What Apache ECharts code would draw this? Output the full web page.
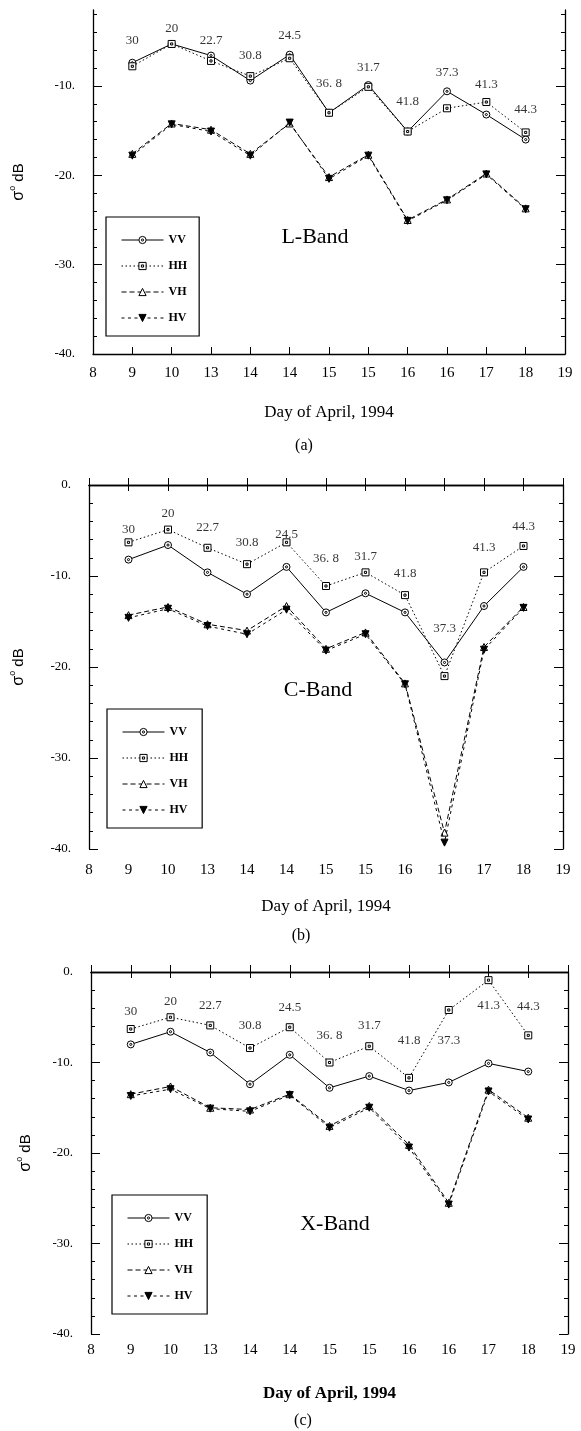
<!DOCTYPE html>
<html><head><meta charset="utf-8">
<script src="https://cdn.jsdelivr.net/npm/echarts@6/dist/echarts.min.js"></script>
<style>html,body{margin:0;padding:0;background:#fff}#c{width:581px;height:1431px}</style>
</head><body><div id="c"></div>
<script>
// ---- data ----
const xTickLabels = ['8','9','10','13','14','14','15','15','16','16','17','18','19'];
const obsIndex = [1,2,3,4,5,6,7,8,9,10,11];
const angleLabels = ['30','20','22.7','30.8','24.5','36. 8','31.7','41.8','37.3','41.3','44.3'];

const lVV = [-7.4,-5.3,-6.6,-9.4,-6.5,-13.0,-9.9,-15.1,-10.6,-13.2,-16.0];
const lHH = [-7.8,-5.3,-7.2,-8.9,-6.9,-13.0,-10.1,-15.1,-12.5,-11.8,-15.2];
const lVH = [-17.6,-14.2,-14.9,-17.6,-14.2,-20.2,-17.7,-25.0,-22.7,-19.8,-23.7];
const lHV = [-17.8,-14.3,-15.1,-17.8,-14.1,-20.4,-17.8,-25.1,-22.8,-19.9,-23.8];
const lAngleY = [-4.9,-3.6,-4.9,-6.6,-4.4,-9.7,-7.9,-11.7,-8.5,-9.8,-12.6];

const cVV = [-8.2,-6.6,-9.6,-12.0,-9.0,-14.0,-11.9,-14.0,-19.5,-13.3,-9.0];
const cHH = [-6.3,-4.9,-6.9,-8.7,-6.3,-11.1,-9.6,-12.1,-21.0,-9.6,-6.7];
const cVH = [-14.3,-13.4,-15.3,-16.0,-13.3,-18.0,-16.2,-21.8,-38.2,-17.8,-13.4];
const cHV = [-14.6,-13.6,-15.5,-16.4,-13.7,-18.2,-16.4,-21.9,-39.3,-18.1,-13.5];
const cAngleY = [-4.9,-3.1,-4.65,-6.3,-5.4,-8.1,-7.9,-9.7,-15.75,-6.9,-4.6];

const xVV = [-8.0,-6.6,-8.9,-12.4,-9.15,-12.8,-11.5,-13.1,-12.2,-10.1,-11.0];
const xHH = [-6.3,-5.0,-5.9,-8.4,-6.1,-10.0,-8.2,-11.7,-4.2,-0.9,-7.0];
const xVH = [-13.5,-12.65,-15.0,-15.2,-13.5,-17.0,-14.8,-19.1,-25.5,-13.0,-16.1];
const xHV = [-13.7,-12.95,-15.1,-15.4,-13.6,-17.2,-15.0,-19.4,-25.7,-13.2,-16.3];
const xAngleY = [-4.35,-3.25,-3.7,-5.9,-3.9,-7.0,-5.9,-7.6,-7.6,-3.7,-3.8];

const yMajorA = [-40,-30,-20,-10];
const yMajorBC = [-40,-30,-20,-10,0];
const yMinorTicks = [-38,-36,-34,-32,-28,-26,-24,-22,-18,-16,-14,-12,-8,-6,-4,-2];

// ---- layout ----
const SERIF = 'Liberation Serif';
const panels = [
  {grid:{left:89,right:16,top:10,height:344}, yMax:-1.5, major:yMajorA, top:false,
   d:[lVV,lHH,lVH,lHV], ay:lAngleY, legend:{left:106,top:217,padding:[17,12,12,15]},
   band:{t:'L-Band',x:315,y:237}, cap:{t:'(a)',x:304,y:446}, lm:12, ng:50, yng:63, bold:'normal'},
  {grid:{left:87,right:18,top:485,height:364}, yMax:0, major:yMajorBC, top:true,
   d:[cVV,cHH,cVH,cHV], ay:cAngleY, legend:{left:107,top:709,padding:[17,14,12,15]},
   band:{t:'C-Band',x:318,y:690}, cap:{t:'(b)',x:301,y:936}, lm:14, ng:49, yng:59, bold:'normal'},
  {grid:{left:91,right:13,top:972,height:362}, yMax:0, major:yMajorBC, top:true,
   d:[xVV,xHH,xVH,xHV], ay:xAngleY, legend:{left:112,top:1195,padding:[17,14,12,15]},
   band:{t:'X-Band',x:335,y:1224}, cap:{t:'(c)',x:303,y:1421}, lm:9, ng:51, yng:54, bold:'bold'}
];

const circDot = 'path://M10,0A10,10,0,1,1,-10,0A10,10,0,1,1,10,0ZM3,0A3,3,0,1,1,-3,0A3,3,0,1,1,3,0Z';
const rectDot = 'path://M-10,-10L10,-10L10,10L-10,10ZM-3,-3L3,-3L3,3L-3,3Z';
const seriesStyles = [
  {name:'VV', symbol:circDot, size:7, rot:0, fill:'#fff', dash:'solid'},
  {name:'HH', symbol:rectDot, size:7, rot:0, fill:'#fff', dash:[1.5,2.5]},
  {name:'VH', symbol:'triangle', size:7, rot:0, fill:'#fff', dash:[5,3]},
  {name:'HV', symbol:'triangle', size:7, rot:180, fill:'#000', dash:[3,3.5]}
];

const grid = [], xAxis = [], yAxis = [], series = [], legend = [], graphic = [];
const axisLine = {show:true, lineStyle:{color:'#000', width:1.3}};
const tickStyle = {color:'#000', width:1};

panels.forEach((p, i) => {
  grid.push(p.grid);
  const xb = xAxis.length;
  xAxis.push({gridIndex:i, type:'value', min:0, max:12, interval:1, position:'bottom',
    axisLine, axisTick:{show:true, inside:true, length:7, lineStyle:tickStyle},
    axisLabel:{show:true, margin:p.lm, color:'#000', fontFamily:SERIF, fontSize:15,
      formatter: v => xTickLabels[Math.round(v)] ?? ''},
    splitLine:{show:false},
    name:'Day of April, 1994', nameLocation:'middle', nameGap:p.ng,
    nameTextStyle:{color:'#000', fontFamily:SERIF, fontSize:17, fontWeight:p.bold}});
  if (p.top) {
    xAxis.push({gridIndex:i, type:'value', min:0, max:12, interval:1, position:'top',
      axisLine, axisTick:{show:true, inside:true, length:6, lineStyle:tickStyle},
      axisLabel:{show:false}, splitLine:{show:false}});
  }
  const yl = yAxis.length;
  yAxis.push({gridIndex:i, type:'value', min:-40, max:p.yMax, position:'left',
    axisLine, axisTick:{show:true, inside:true, length:9, customValues:p.major, lineStyle:tickStyle},
    axisLabel:{show:true, customValues:p.major, margin:18, color:'#000', fontFamily:SERIF, fontSize:13,
      formatter: v => (Math.abs(v % 10) < 1e-9 ? v + '.' : '')},
    splitLine:{show:false},
    name:'{s|σ}{o|o}{d| dB}', nameLocation:'middle', nameRotate:90, nameGap:p.yng,
    nameTextStyle:{color:'#000', fontFamily:'Liberation Sans', fontSize:15,
      rich:{s:{fontFamily:'Liberation Sans', fontSize:16, lineHeight:22, color:'#000'},
            o:{fontFamily:'Liberation Sans', fontSize:9, verticalAlign:'top', color:'#000'},
            d:{fontFamily:'Liberation Sans', fontSize:15, lineHeight:22, color:'#000'}}}});
  yAxis.push({gridIndex:i, type:'value', min:-40, max:p.yMax, position:'left',
    axisLine:{show:false}, axisTick:{show:true, inside:true, length:4, customValues:yMinorTicks, lineStyle:tickStyle},
    axisLabel:{show:false}, splitLine:{show:false}});
  yAxis.push({gridIndex:i, type:'value', min:-40, max:p.yMax, position:'right',
    axisLine, axisTick:{show:true, inside:true, length:9, customValues:p.major, lineStyle:tickStyle},
    axisLabel:{show:false}, splitLine:{show:false}});
  yAxis.push({gridIndex:i, type:'value', min:-40, max:p.yMax, position:'right',
    axisLine:{show:false}, axisTick:{show:true, inside:true, length:4, customValues:yMinorTicks, lineStyle:tickStyle},
    axisLabel:{show:false}, splitLine:{show:false}});

  seriesStyles.forEach((s, k) => {
    series.push({type:'line', name:s.name, xAxisIndex:xb, yAxisIndex:yl,
      data: obsIndex.map((x, j) => [x, p.d[k][j]]),
      symbol:s.symbol, symbolSize:s.size, symbolRotate:s.rot, showAllSymbol:true,
      lineStyle:{color:'#000', width:1, type:s.dash},
      itemStyle:{color:s.fill, borderColor:'#000', borderWidth:1},
      z: 3 + k, silent:true});
  });
  series.push({type:'scatter', name:'angle'+i, xAxisIndex:xb, yAxisIndex:yl,
    data: obsIndex.map((x, j) => [x, p.ay[j]]),
    symbolSize:1, itemStyle:{color:'rgba(0,0,0,0)'}, silent:true,
    label:{show:true, position:'inside', color:'#000', fontFamily:SERIF, fontSize:13,
      formatter: q => angleLabels[q.dataIndex]}});

  legend.push({
    data: seriesStyles.map(s => ({name:s.name,
      itemStyle:{color:s.fill, borderColor:'#000', borderWidth:1},
      lineStyle:{color:'#000', width:1, type:s.dash}})),
    orient:'vertical', left:p.legend.left, top:p.legend.top,
    padding:p.legend.padding, itemWidth:42, itemHeight:9, itemGap:14, selectedMode:false,
    borderColor:'#000', borderWidth:1.2, backgroundColor:'#fff',
    textStyle:{color:'#000', fontFamily:SERIF, fontWeight:'bold', fontSize:12}});

  graphic.push({type:'text', x:p.band.x, y:p.band.y, silent:true,
    style:{text:p.band.t, font:'22px "Liberation Serif"', fill:'#000', textAlign:'center', textVerticalAlign:'middle'}});
  graphic.push({type:'text', x:p.cap.x, y:p.cap.y, silent:true,
    style:{text:p.cap.t, font:'16px "Liberation Serif"', fill:'#000', textAlign:'center', textVerticalAlign:'middle'}});
});

const chart = echarts.init(document.getElementById('c'), null, {renderer:'canvas'});
chart.setOption({animation:false, backgroundColor:'#fff', grid, xAxis, yAxis, series, legend, graphic});
</script>
</body></html>
